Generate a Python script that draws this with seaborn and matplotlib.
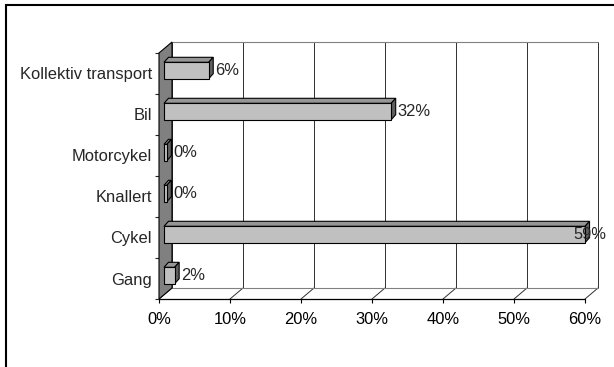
import matplotlib
matplotlib.use("Agg")
import matplotlib.pyplot as plt
import seaborn as sns
from matplotlib.patches import Polygon, Rectangle

# Data
categories = ["Kollektiv transport", "Bil", "Motorcykel", "Knallert", "Cykel", "Gang"]
shares = [6.3, 32.0, 0.4, 0.4, 59.3, 1.5]
x_ticks = [0, 10, 20, 30, 40, 50, 60]
x_tick_labels = ["0%", "10%", "20%", "30%", "40%", "50%", "60%"]

W, H = 614, 367
sns.set_style("white")
plt.rcParams["font.family"] = ["Liberation Sans", "DejaVu Sans"]
plt.rcParams["font.size"] = 11.9

fig = plt.figure(figsize=(W / 100, H / 100), dpi=100)

# front plane of the 3D box in pixels
fx0, fx1, fy_top, fy_bot = 159, 585, 53, 299
ax = fig.add_axes([fx0 / W, 1 - fy_bot / H, (fx1 - fx0) / W, (fy_bot - fy_top) / H])

xmax, n = 60, len(categories)


def off(px, py):
    # pixel offset (right, up) -> data offset
    return px * xmax / (fx1 - fx0), -py * n / (fy_bot - fy_top)


sns.barplot(x=shares, y=categories, orient="h", width=0.4, color="#C0C0C0",
            saturation=1, edgecolor="black", linewidth=0.8, ax=ax, zorder=5)

ax.set_xlim(0, xmax)
ax.set_ylim(n - 0.5, -0.5)
for s in ax.spines.values():
    s.set_visible(False)

# back wall and floor
bdx, bdy = off(13, 11)
ylo, yhi = n - 0.5, -0.5
gl = dict(color="#303030", lw=0.7, clip_on=False, zorder=1)
for t in x_ticks:
    ax.plot([t + bdx, t + bdx], [ylo + bdy, yhi + bdy], **gl)
    ax.plot([t, t + bdx], [ylo, ylo + bdy], **gl)
ax.plot([bdx, xmax + bdx], [yhi + bdy, yhi + bdy], color="#808080", lw=0.8, clip_on=False, zorder=1)
ax.plot([bdx, xmax + bdx], [ylo + bdy, ylo + bdy], color="#808080", lw=0.8, clip_on=False, zorder=1)
ax.plot([0, xmax], [ylo, ylo], color="black", lw=0.9, clip_on=False, zorder=2)

# left side wall
wall = Polygon([(0, ylo), (0, yhi), (bdx, yhi + bdy), (bdx, ylo + bdy)], closed=True,
               facecolor="#808080", edgecolor="black", lw=0.8, clip_on=False, zorder=3)
ax.add_patch(wall)

# 3D bars: shift front faces into depth, add top and side faces
f_dx, f_dy = off(5, 3)
b_dx, b_dy = off(9.5, 8)
renderer = fig.canvas.get_renderer()

bars = [p for p in ax.patches if isinstance(p, Rectangle)]
for bar, v in zip(bars, shares):
    x0, y0, w, h = bar.get_x(), bar.get_y(), bar.get_width(), bar.get_height()
    bar.set_x(x0 + f_dx)
    bar.set_y(y0 + f_dy)
    bar.set_clip_on(False)
    xa, xb = x0 + f_dx, x0 + f_dx + w
    yt, yb = y0 + f_dy, y0 + f_dy + h
    sx, sy = b_dx - f_dx, b_dy - f_dy
    top = Polygon([(xa, yt), (xb, yt), (xb + sx, yt + sy), (xa + sx, yt + sy)], closed=True,
                  facecolor="#969696", edgecolor="black", lw=0.8, clip_on=False, zorder=4)
    side = Polygon([(xb, yt), (xb, yb), (xb + sx, yb + sy), (xb + sx, yt + sy)], closed=True,
                   facecolor="#606060", edgecolor="black", lw=0.8, clip_on=False, zorder=4)
    ax.add_patch(top)
    ax.add_patch(side)

    # value label, kept inside the chart on the right
    lx = xb + sx + off(2, 0)[0]
    txt = ax.text(lx, (yt + yb) / 2, f"{round(v)}%", ha="left",
                  va="center", clip_on=False, zorder=6)
    ext = txt.get_window_extent(renderer=renderer)
    limit = fx1 + 21
    if ext.x1 > limit:
        txt.set_x(lx - (ext.x1 - limit) * xmax / (fx1 - fx0))

# ticks
ax.set_xticks(x_ticks)
ax.set_xticklabels(x_tick_labels)
ax.tick_params(axis="x", bottom=True, length=3, width=0.8, direction="out", pad=6, colors="black")
ax.set_yticks(range(n))
ax.set_yticklabels(categories)
ax.tick_params(axis="y", which="major", left=False, length=0, pad=5)
ax.set_yticks([i - 0.5 for i in range(n + 1)], minor=True)
ax.tick_params(axis="y", which="minor", left=True, length=3, width=0.8, direction="out")
ax.set_xlabel("")
ax.set_ylabel("")
ax.grid(False)

# chart area border
fig.patches.append(Rectangle((6 / W, -0.1), 1.2, 1 - 5 / H + 0.1, transform=fig.transFigure,
                             fill=False, edgecolor="black", lw=1.5))

fig.savefig("out.png", dpi=100)
